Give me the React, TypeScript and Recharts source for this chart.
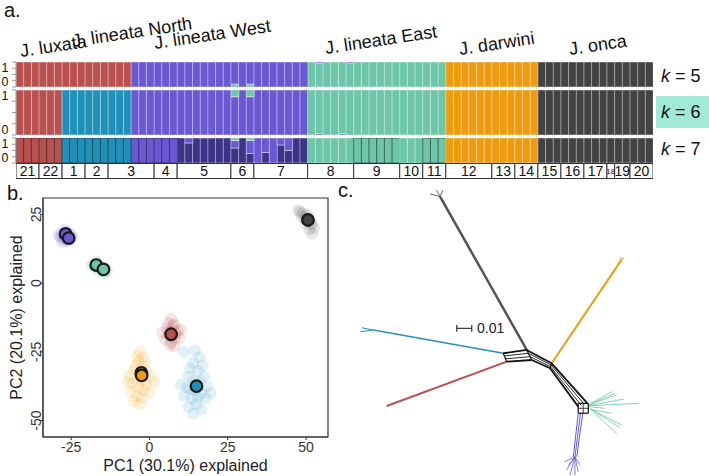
import React from "react";
import {
  BarChart,
  Bar,
  XAxis,
  YAxis,
  Cell,
  LabelList,
  ScatterChart,
  Scatter,
  ReferenceArea,
  Label,
} from "recharts";

const FONT = "'Liberation Sans', Arial, Helvetica, sans-serif";

// ---------- panel a: admixture proportions ----------
const CLUSTER_COLORS: Record<string, string> = {
  R: "#b9514f", // J. luxata
  B: "#2190b9", // lineata North
  P: "#6b58d3", // lineata West
  V: "#3c3486", // lineata West (k=7 split)
  G: "#6cc6a7", // lineata East
  O: "#ef9b0f", // darwini
  D: "#434343", // onca
};

const POPS = ["21", "22", "1", "2", "3", "4", "5", "6", "7", "8", "9", "10", "11", "12", "13", "14", "15", "16", "17", "18", "19", "20"];
const POP_SIZE = [3, 3, 3, 3, 6, 3, 7, 3, 7, 6, 6, 3, 3, 6, 3, 3, 3, 3, 3, 1, 2, 3];

const SPECIES = ["J. luxata", "J. lineata North", "J. lineata West", "J. lineata East", "J. darwini", "J. onca"];

// main cluster of each individual, grouped by population
const K5_BY_POP = ["RRR", "RRR", "RRR", "RRR", "RRRPPP", "PPP", "PPPPPPP", "PPP", "PPPPPPP", "GGGGGG", "GGGGGG", "GGG", "GGG", "OOOOOO", "OOO", "OOO", "DDD", "DDD", "DDD", "D", "DD", "DDD"];
const K6_BY_POP = ["RRR", "RRR", "BBB", "BBB", "BBBPPP", "PPP", "PPPPPPP", "PPP", "PPPPPPP", "GGGGGG", "GGGGGG", "GGG", "GGG", "OOOOOO", "OOO", "OOO", "DDD", "DDD", "DDD", "D", "DD", "DDD"];
const K7_BY_POP = ["RRR", "RRR", "BBB", "BBB", "BBBPPP", "PPP", "VVVVVVV", "VVV", "PVPVVVV", "GGGGGG", "GGGGGG", "GGG", "GGG", "OOOOOO", "OOO", "OOO", "DDD", "DDD", "DDD", "D", "DD", "DDD"];

// admixed individuals (index along the plot)
const K5_ADMIX = [
  { bar: 28, P: 0.88, G: 0.12 },
  { bar: 30, P: 0.88, G: 0.12 },
  { bar: 39, G: 0.96, P: 0.04 },
  { bar: 43, G: 0.96, P: 0.04 },
];
const K6_ADMIX = [
  { bar: 28, P: 0.85, G: 0.15 },
  { bar: 30, P: 0.85, G: 0.15 },
  { bar: 39, G: 0.97, P: 0.03 },
  { bar: 42, G: 0.97, P: 0.03 },
];
const K7_ADMIX = [
  { bar: 22, V: 0.8, P: 0.2 },
  { bar: 28, V: 0.6, P: 0.3, G: 0.1 },
  { bar: 30, V: 0.38, P: 0.52, G: 0.1 },
  { bar: 32, V: 0.42, P: 0.58 },
  { bar: 34, V: 0.72, P: 0.28 },
  { bar: 35, V: 0.5, P: 0.5 },
];

// bottom-to-top stacking order per run
const K5_ORDER = ["R", "B", "G", "P", "V", "O", "D"];
const K6_ORDER = ["R", "B", "P", "V", "G", "O", "D"];
const K7_ORDER = ["R", "B", "V", "P", "G", "O", "D"];

const K7_DARK_EDGES = [[0, 20], [44, 49], [53, 55]];

function buildRows(byPop: string[], admix: any[]) {
  const rows: any[] = byPop.join("").split("").map((c, i) => {
    const r: any = { id: i, R: 0, B: 0, P: 0, V: 0, G: 0, O: 0, D: 0 };
    r[c] = 1;
    return r;
  });
  admix.forEach((a) => {
    const r = rows[a.bar];
    Object.keys(CLUSTER_COLORS).forEach((k) => (r[k] = 0));
    Object.keys(a).forEach((k) => {
      if (k !== "bar") r[k] = a[k];
    });
  });
  return rows;
}

const AdmixTick = (props: any) => {
  const { y, payload } = props;
  if (payload.value !== 0 && payload.value !== 1) return null;
  return (
    <text x={5} y={y + (payload.value === 1 ? 5.5 : -5)} dy="0.35em" textAnchor="middle" fontSize={12.5} fill="#111" fontFamily={FONT}>
      {payload.value}
    </text>
  );
};

const PAD = 6;

function AdmixRow({ top, height, rows, order, edge }: any) {
  return (
    <div style={{ position: "absolute", left: 0, top: top - PAD, width: 653, height: height + 2 * PAD }}>
      <BarChart width={653} height={height + 2 * PAD} data={rows} margin={{ top: PAD, right: 0, bottom: PAD, left: 0 }} barCategoryGap={0} barGap={0}>
        <XAxis dataKey="id" hide />
        <YAxis
          type="number"
          domain={[0, 1]}
          allowDataOverflow
          ticks={[0, 0.25, 0.5, 0.75, 1]}
          interval={0}
          width={16}
          tickSize={4}
          tick={<AdmixTick />}
          axisLine={{ stroke: "#999" }}
          tickLine={{ stroke: "#999" }}
        />
        {order.map((c: string) => (
          <Bar key={c} dataKey={c} stackId="q" fill={CLUSTER_COLORS[c]} isAnimationActive={false}>
            {rows.map((_: any, i: number) => (
              <Cell key={i} stroke={edge(i)} strokeWidth={0.8} />
            ))}
          </Bar>
        ))}
      </BarChart>
    </div>
  );
}

const lightEdge = () => "rgba(255,255,255,0.5)";
const k7Edge = (i: number) =>
  K7_DARK_EDGES.some(([a, b]) => i >= a && i <= b) ? "rgba(20,20,30,0.6)" : "rgba(255,255,255,0.5)";

const popRow = [
  POPS.reduce((acc: any, p, i) => {
    acc[`p${i}`] = POP_SIZE[i];
    return acc;
  }, { name: "pop" }),
];
const TOTAL = POP_SIZE.reduce((a, b) => a + b, 0);

function PopBoxes() {
  return (
    <div style={{ position: "absolute", left: 0, top: 163, width: 654, height: 16 }}>
      <BarChart layout="vertical" width={654} height={16} data={popRow} margin={{ top: 0.5, right: 1, bottom: 0.5, left: 16 }} barCategoryGap={0}>
        <XAxis type="number" domain={[0, TOTAL]} allowDataOverflow hide />
        <YAxis type="category" dataKey="name" hide />
        {POPS.map((p, i) => (
          <Bar key={p} dataKey={`p${i}`} stackId="pop" fill="#fff" stroke="#333" strokeWidth={1} isAnimationActive={false}>
            <LabelList
              content={(lp: any) => {
                const small = lp.width < 12;
                return (
                  <text
                    x={lp.x + lp.width / 2}
                    y={lp.y + lp.height / 2}
                    dy="0.36em"
                    textAnchor="middle"
                    fontSize={small ? 8 : 14}
                    fill="#111"
                    fontFamily={FONT}
                  >
                    {p}
                  </text>
                );
              }}
            />
          </Bar>
        ))}
      </BarChart>
    </div>
  );
}

// ---------- panel b: PCA ----------
const PCA_PURPLE = [[-28, 18], [-27, 17.5], [-26, 17], [-25.5, 16], [-27.5, 16], [-26.5, 18.5], [-28.5, 16.8], [-25, 17.5], [-26, 15.2], [-27, 19.5], [-29, 17.5], [-24.5, 16.5], [-26.8, 16.2], [-27.8, 15], [-25.8, 18.2]];
const PCA_GREEN = [[-18, 7], [-17, 6.5], [-16, 5.5], [-15, 4.8], [-14, 4], [-17.5, 5.5], [-16.5, 7.5], [-15.5, 6], [-14.5, 3.5], [-18.5, 6.5], [-13.5, 4.5], [-16, 4.2], [-17, 8], [-15, 5.5]];
const PCA_RED = [[7, -13], [6, -14.5], [8, -15], [5.5, -16.5], [7, -17], [9, -17.5], [6, -19], [8, -20], [7, -21.5], [5, -20.5], [9.5, -20], [6.5, -22.5], [8, -23], [4, -18], [10, -17], [7.5, -15.5], [6.5, -17.5], [8.5, -18.5]];
const PCA_ORANGE = [[-3, -25], [-4, -26.5], [-2, -27], [-3.5, -28.5], [-1.5, -29], [-4.5, -30], [-2.5, -30.5], [-5, -32], [-1, -32], [-3, -33], [-6.5, -33.5], [0.5, -34], [-4, -35], [-2, -35.5], [-5.5, -36.5], [-1, -37], [-3.5, -38], [-2, -39], [-6, -39.5], [0, -40], [-4, -41], [-2.5, -42], [-3, -44], [-5, -43], [1.5, -36], [-7, -36]];
const PCA_BLUE = [[11, -25], [14.5, -24.5], [16, -27], [14, -29], [17, -30], [13, -31], [15.5, -32], [12.5, -34], [17.5, -34], [14, -35.5], [16, -36], [12, -38], [18.5, -37.5], [14.5, -39], [16.5, -40], [11, -41], [13.5, -42], [18, -42], [15, -44], [12.5, -45], [16.5, -46], [14, -47.5], [19.5, -40], [10, -37], [13, -38.5], [15.5, -41.5]];
const PCA_GRAY = [[48, 26], [49, 25.5], [50, 24], [51, 23], [52, 21.5], [52.5, 20], [49.5, 23.5], [50.5, 25], [51.5, 22], [48.5, 24.5], [51, 19.5], [52, 18], [47.5, 26.5], [50, 21.5]];

const CENTROIDS = [
  { x: -26.8, y: 17.9, c: "P" },
  { x: -25.8, y: 16.4, c: "P" },
  { x: -17.0, y: 6.6, c: "G" },
  { x: -14.7, y: 5.0, c: "G" },
  { x: 6.9, y: -18.6, c: "R" },
  { x: -2.6, y: -32.7, c: "O" },
  { x: -2.5, y: -33.6, c: "O" },
  { x: 15.0, y: -37.5, c: "B" },
  { x: 50.6, y: 23.0, c: "D" },
];

const CLOUDS = [
  { pts: PCA_PURPLE, color: "#6b58d3" },
  { pts: PCA_GREEN, color: "#5fc3a0" },
  { pts: PCA_RED, color: "#b9514f" },
  { pts: PCA_ORANGE, color: "#f2a81c" },
  { pts: PCA_BLUE, color: "#3f9fcf" },
  { pts: PCA_GRAY, color: "#6a6a6a" },
];

const toXY = (a: number[][]) => a.map(([x, y]) => ({ x, y }));

const RotTick = ({ x, y, payload }: any) => (
  <text transform={`translate(${x + 1},${y}) rotate(-90)`} textAnchor="middle" fontSize={14} fill="#333" fontFamily={FONT}>
    {payload.value}
  </text>
);

function PcaPanel() {
  return (
    <div style={{ position: "absolute", left: 0, top: 190, width: 340, height: 286 }}>
      <ScatterChart width={340} height={286} margin={{ top: 8, right: 12, bottom: 0, left: 0 }}>
        <XAxis
          type="number"
          dataKey="x"
          domain={[-34, 57]}
          allowDataOverflow
          ticks={[-25, 0, 25, 50]}
          height={39}
          tickSize={3}
          tickMargin={2}
          tick={{ fontSize: 14, fill: "#333", fontFamily: FONT }}
          axisLine={{ stroke: "#333" }}
          tickLine={{ stroke: "#333" }}
        >
          <Label
            content={({ viewBox }: any) => (
              <text x={viewBox.x + viewBox.width / 2} y={viewBox.y + viewBox.height - 5} textAnchor="middle" fontSize={16} fill="#222" fontFamily={FONT}>
                PC1 (30.1%) explained
              </text>
            )}
          />
        </XAxis>
        <YAxis
          type="number"
          dataKey="y"
          domain={[-56, 31]}
          allowDataOverflow
          ticks={[-50, -25, 0, 25]}
          width={43}
          tickSize={3}
          tickMargin={0}
          tick={<RotTick />}
          axisLine={{ stroke: "#333" }}
          tickLine={{ stroke: "#333" }}
        >
          <Label
            content={({ viewBox }: any) => (
              <text transform={`translate(22,${viewBox.y + viewBox.height / 2}) rotate(-90)`} textAnchor="middle" fontSize={16} fill="#222" fontFamily={FONT}>
                PC2 (20.1%) explained
              </text>
            )}
          />
        </YAxis>
        <ReferenceArea x1={-34} x2={57} y1={-56} y2={31} fill="none" stroke="#333" strokeWidth={1.2} />
        {CLOUDS.map((cl, i) => (
          <Scatter
            key={i}
            data={toXY(cl.pts)}
            fill={cl.color}
            isAnimationActive={false}
            shape={(p: any) => <circle cx={p.cx} cy={p.cy} r={6} fill={cl.color} fillOpacity={0.15} />}
          />
        ))}
        <Scatter
          data={CENTROIDS}
          isAnimationActive={false}
          shape={(p: any) => (
            <circle cx={p.cx} cy={p.cy} r={5.8} fill={CLUSTER_COLORS[p.payload.c]} stroke="#1a1a1a" strokeWidth={2.2} />
          )}
        />
      </ScatterChart>
    </div>
  );
}

// ---------- panel c: neighbour-net (units of 0.01 substitutions) ----------
// [x1, y1, x2, y2, strokeWidth]
const NET_CORE = [
  [-2.45, 0.45, -0.89, 0.67, 1.8], [-2.38, 0.27, -0.78, 0.45, 0.9], [-2.3, 0.08, -0.66, 0.22, 0.9], [-2.22, -0.11, -0.55, 0.0, 1.8],
  [-2.45, 0.45, -2.22, -0.11, 1.2], [-0.89, 0.67, -0.55, 0.0, 1.2],
  [-0.89, 0.67, 0.78, -0.22, 1.8], [-0.78, 0.45, 0.74, -0.33, 0.9], [-0.66, 0.22, 0.7, -0.44, 0.9], [-0.55, 0.0, 0.67, -0.55, 1.8],
  [0.78, -0.22, 0.67, -0.55, 1.2],
  [0.78, -0.22, 3.15, -2.87, 1.8], [0.74, -0.33, 2.95, -2.95, 0.9], [0.7, -0.44, 2.75, -3.03, 0.9], [0.67, -0.55, 2.55, -3.11, 1.8],
  [2.55, -2.89, 3.22, -2.89, 1.2], [2.55, -3.55, 3.22, -3.55, 1.2], [2.55, -2.89, 2.55, -3.55, 1.2], [3.22, -2.89, 3.22, -3.55, 1.2],
  [2.88, -2.89, 2.88, -3.55, 0.8], [2.55, -3.22, 3.22, -3.22, 0.8],
];
const NET_GRAY = [[-0.89, 0.67, -6.67, 10.89, 2.2], [-0.78, 0.6, -6.58, 10.86, 0.9], [-6.67, 10.89, -7.33, 11.07, 0.9], [-6.67, 10.89, -6.89, 11.33, 0.9], [-6.67, 10.89, -6.47, 11.33, 0.9]];
const NET_ORANGE = [[0.78, -0.22, 5.45, 6.71, 2], [5.45, 6.71, 5.33, 6.87, 1], [5.45, 6.71, 5.6, 6.8, 1]];
const NET_BLUE = [[-2.45, 0.45, -11.11, 2.0, 1.6], [-11.11, 2.0, -11.89, 2.15, 1], [-11.11, 2.0, -11.95, 1.89, 1]];
const NET_RED = [[-2.22, -0.11, -10.22, -3.07, 2]];
const NET_GREEN = [
  [3.22, -3.0, 5.0, -2.22, 0.8], [3.22, -3.0, 5.11, -2.33, 0.8], [3.22, -3.05, 6.62, -2.89, 0.8], [3.22, -3.1, 4.33, -3.22, 0.8],
  [3.4, -3.3, 4.78, -3.55, 0.8], [3.4, -3.3, 5.45, -4.33, 0.8], [3.4, -3.3, 5.11, -4.89, 0.8], [3.22, -3.0, 4.8, -2.1, 0.8],
  [3.3, -3.2, 5.3, -4.5, 0.8], [3.22, -3.05, 5.6, -2.6, 0.8],
];
const NET_PURPLE = [
  [2.55, -3.55, 2.22, -6.45, 1], [2.7, -3.55, 2.33, -6.45, 1], [2.85, -3.55, 2.45, -6.45, 1],
  [2.33, -6.45, 1.67, -6.78, 0.8], [2.33, -6.45, 1.78, -7.33, 0.8], [2.33, -6.45, 2.0, -7.67, 0.8], [2.33, -6.45, 2.33, -7.67, 0.8],
  [2.33, -6.45, 2.55, -7.45, 0.8], [2.33, -6.45, 2.67, -7.0, 0.8], [2.33, -6.45, 1.89, -7.0, 0.8],
];
const SCALE_BAR = [[-5.55, 2.11, -4.55, 2.11, 1.2], [-5.55, 1.89, -5.55, 2.33, 1.2], [-4.55, 1.89, -4.55, 2.33, 1.2]];

const NET_GROUPS = [
  { edges: NET_GRAY, color: "#555555" },
  { edges: NET_ORANGE, color: "#ef9b0f" },
  { edges: NET_BLUE, color: "#2a8fbd" },
  { edges: NET_RED, color: "#b9514f" },
  { edges: NET_GREEN, color: "#6cc6a7" },
  { edges: NET_PURPLE, color: "#6b58d3" },
  { edges: NET_CORE, color: "#111111" },
  { edges: SCALE_BAR, color: "#333333" },
];

const noDot = () => <g />;

function NetworkPanel() {
  return (
    <div style={{ position: "absolute", left: 340, top: 190, width: 369, height: 286 }}>
      <ScatterChart width={369} height={286} margin={{ top: 0, right: 0, bottom: 0, left: 0 }}>
        <XAxis type="number" dataKey="x" domain={[-13.333, 11.267]} allowDataOverflow hide />
        <YAxis type="number" dataKey="y" domain={[-7.733, 11.333]} allowDataOverflow hide />
        {NET_GROUPS.flatMap((g, gi) =>
          g.edges.map((e, i) => (
            <Scatter
              key={`${gi}-${i}`}
              data={[{ x: e[0], y: e[1] }, { x: e[2], y: e[3] }]}
              line={{ stroke: g.color, strokeWidth: e[4] }}
              shape={noDot}
              isAnimationActive={false}
            />
          ))
        )}
      </ScatterChart>
    </div>
  );
}

// ---------- overlay text ----------
const SPECIES_POS = [
  [21, 57], [73, 47], [155, 49], [326, 54], [460, 55], [570, 55],
];

function Overlay() {
  return (
    <svg width={709} height={476} style={{ position: "absolute", left: 0, top: 0, pointerEvents: "none" }} fontFamily={FONT}>
      <text x={4} y={17} fontSize={20} fill="#111">a.</text>
      {SPECIES.map((s, i) => (
        <text key={s} transform={`translate(${SPECIES_POS[i][0]},${SPECIES_POS[i][1]}) rotate(-8.5)`} fontSize={18} fill="#111">
          {s}
        </text>
      ))}
      <rect x={656} y={96} width={53} height={32} fill="#a0ead6" />
      {[["5", 81.5], ["6", 118], ["7", 155]].map(([k, y]) => (
        <text key={k as string} x={661} y={y as number} fontSize={18} fill="#111">
          <tspan fontStyle="italic">k</tspan> = {k}
        </text>
      ))}
      <text x={7} y={200} fontSize={20} fill="#111">b.</text>
      <text x={338} y={197} fontSize={20} fill="#111">c.</text>
      <text x={477} y={333} fontSize={14} fill="#222">0.01</text>
    </svg>
  );
}

export default function App() {
  const k5 = buildRows(K5_BY_POP, K5_ADMIX);
  const k6 = buildRows(K6_BY_POP, K6_ADMIX);
  const k7 = buildRows(K7_BY_POP, K7_ADMIX);
  return (
    <div style={{ position: "absolute", left: 0, top: 0, width: 709, height: 476, background: "#fff", fontFamily: FONT, overflow: "hidden" }}>
      <AdmixRow top={62} height={25} rows={k5} order={K5_ORDER} edge={lightEdge} />
      <AdmixRow top={90} height={45} rows={k6} order={K6_ORDER} edge={lightEdge} />
      <AdmixRow top={138} height={25} rows={k7} order={K7_ORDER} edge={k7Edge} />
      <PopBoxes />
      <PcaPanel />
      <NetworkPanel />
      <Overlay />
    </div>
  );
}
